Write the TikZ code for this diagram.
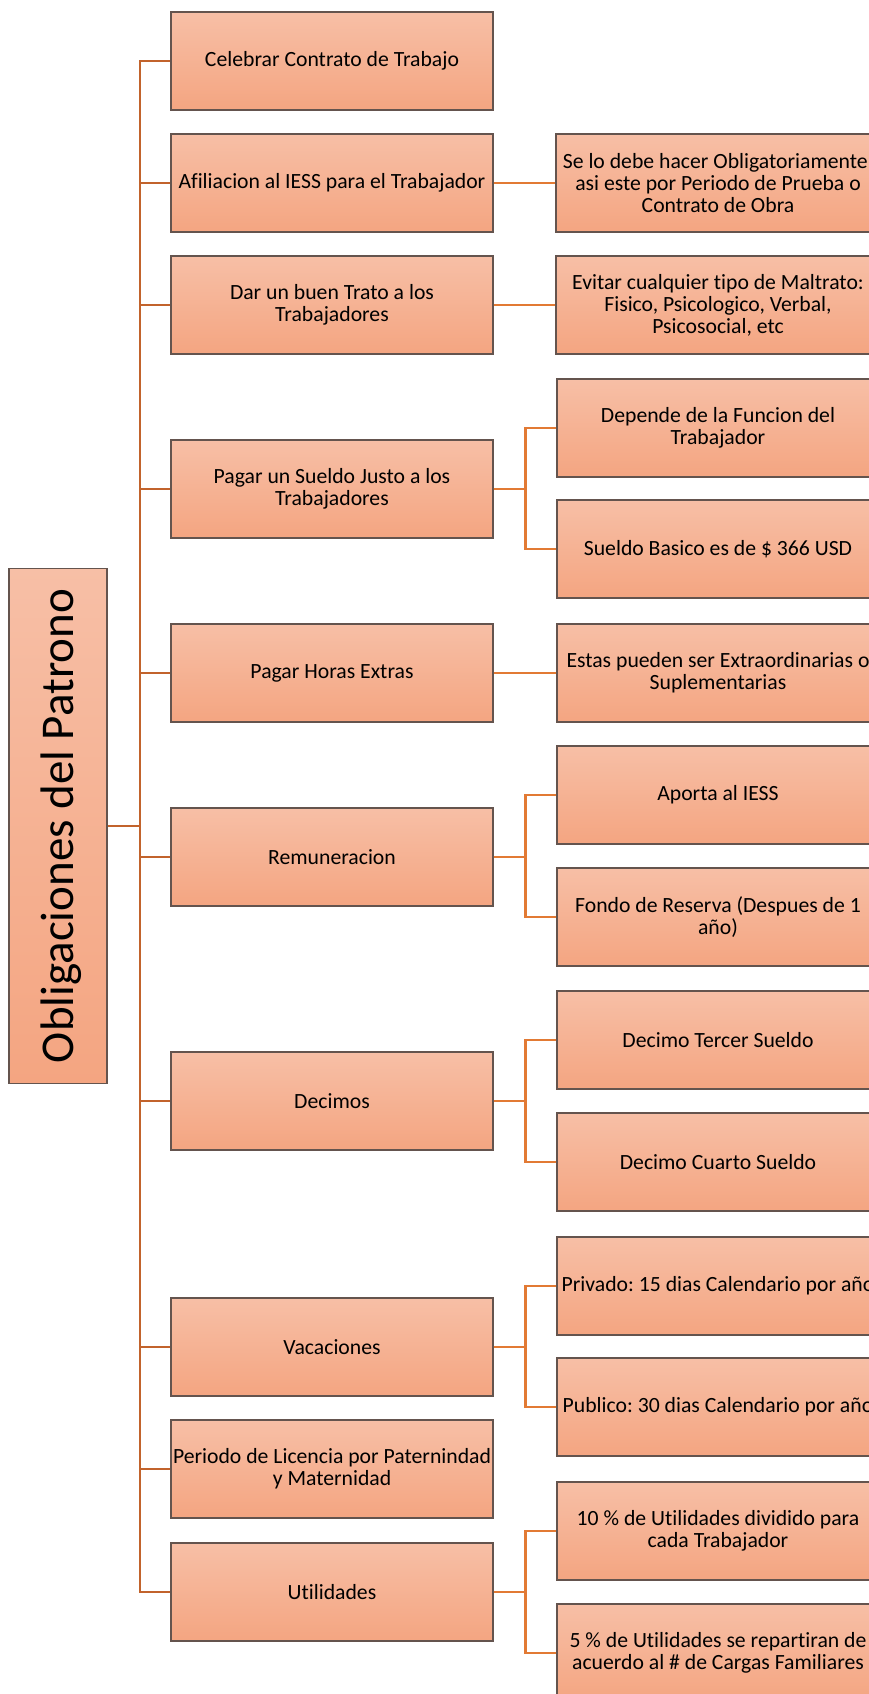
\documentclass[tikz,border=0pt]{standalone}
\usepackage{fontspec}
\setmainfont{Carlito}[Ligatures={NoCommon}]
\frenchspacing
\begin{document}
\begin{tikzpicture}[x=1pt,y=-1pt,
  box/.style={draw=boxline, line width=1.1pt, top color=boxtop, bottom color=boxbot,
    minimum width=322pt, minimum height=98pt, inner sep=2pt, align=center,
    text=black, font=\fontsize{21.7}{22}\selectfont},
  trunk/.style={draw=trunkcol, line width=2.8pt},
  twig/.style={draw=twigcol, line width=2.8pt}]
\definecolor{boxtop}{RGB}{247,191,166}
\definecolor{boxbot}{RGB}{244,165,129}
\definecolor{boxline}{RGB}{100,84,78}
\definecolor{trunkcol}{RGB}{194,99,44}
\definecolor{twigcol}{RGB}{226,122,52}
\useasboundingbox (0,0) rectangle (869,1694);
\clip (0,0) rectangle (869,1694);

% root
\node[box, minimum width=98pt, minimum height=515pt] (root) at (58,826) {};
\node[rotate=90, anchor=base, font=\fontsize{47}{50}\selectfont] (roottext) at (73,826) {Obligaciones del Patrono};
\coordinate (hub) at (140,826);

% first level
\node[box] (c1)  at (332,61)   {Celebrar Contrato de Trabajo};
\node[box] (c2)  at (332,183)  {Afiliacion al IESS para el Trabajador};
\node[box] (c3)  at (332,305)  {Dar un buen Trato a los\\Trabajadores};
\node[box] (c4)  at (332,489)  {Pagar un Sueldo Justo a los\\Trabajadores};
\node[box] (c5)  at (332,673)  {Pagar Horas Extras};
\node[box] (c6)  at (332,857)  {Remuneracion};
\node[box] (c7)  at (332,1101) {Decimos};
\node[box] (c8)  at (332,1347) {Vacaciones};
\node[box] (c9)  at (332,1469) {Periodo de Licencia por Paternindad\\y Maternidad};
\node[box] (c10) at (332,1592) {Utilidades};

% second level
\node[box] (d2)  at (718,183)  {\raisebox{6pt}{\parbox{320pt}{\centering Se lo debe hacer Obligatoriamente,\\asi este por Periodo de Prueba o\\Contrato de Obra}}};
\node[box] (d3)  at (718,305)  {\raisebox{6pt}{\parbox{320pt}{\centering Evitar cualquier tipo de Maltrato:\\Fisico, Psicologico, Verbal,\\Psicosocial, etc}}};
\node[box] (d4a) at (718,428)  {Depende de la Funcion del\\Trabajador};
\node[box] (d4b) at (718,549)  {Sueldo Basico es de \$ 366 USD};
\node[box] (d5)  at (718,673)  {Estas pueden ser Extraordinarias o\\Suplementarias};
\node[box] (d6a) at (718,795)  {Aporta al IESS};
\node[box] (d6b) at (718,917)  {Fondo de Reserva (Despues de 1\\año)};
\node[box] (d7a) at (718,1040) {Decimo Tercer Sueldo};
\node[box] (d7b) at (718,1162) {Decimo Cuarto Sueldo};
\node[box] (d8a) at (718,1286) {Privado: 15 dias Calendario por año};
\node[box] (d8b) at (718,1407) {Publico: 30 dias Calendario por año};
\node[box] (d10a) at (718,1531) {10 \% de Utilidades dividido para\\cada Trabajador};
\node[box] (d10b) at (718,1653) {5 \% de Utilidades se repartiran de\\acuerdo al \# de Cargas Familiares};

% main tree
\draw[trunk] (root.east) -- (hub);
\foreach \c in {c1,c2,c3,c4,c5,c6,c7,c8,c9,c10}
  \draw[trunk] (hub) |- (\c.west);

% single branches
\draw[twig] (c2.east) -- (d2.west);
\draw[twig] (c3.east) -- (d3.west);
\draw[twig] (c5.east) -- (d5.west);

% forked branches
\foreach \p/\a/\b in {c4/d4a/d4b, c6/d6a/d6b, c7/d7a/d7b, c8/d8a/d8b, c10/d10a/d10b}{
  \draw[twig] (\p.east) -- ++(32,0) |- (\a.west);
  \draw[twig] (\p.east) -- ++(32,0) |- (\b.west);
}
\end{tikzpicture}
\end{document}
